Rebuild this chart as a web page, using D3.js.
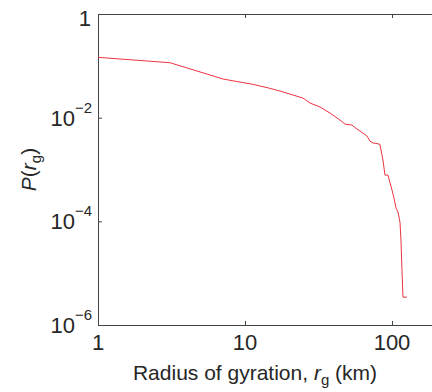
<!DOCTYPE html>
<html>
<head>
<meta charset="utf-8">
<script src="https://cdn.jsdelivr.net/npm/d3@7"></script>
<style>
  body { margin: 0; background: #fff; }
  text { font-family: "Liberation Sans", Arial, sans-serif; fill: #262626; }
</style>
</head>
<body>
<div id="chart"></div>
<script>
// radius of gyration (km) vs P(rg)
const rg = [1, 3.09, 7.1, 11.3, 14.8, 17.3, 24.8, 27.7, 32.4, 37.9, 44.3, 47.9, 53.4, 57.8, 63.5, 67.6,
            70.8, 74.3, 77.8, 82.8, 86.8, 89.6, 93.9, 100, 103.2, 106.5, 109.9, 113.3, 115.1, 116.9, 118.8, 126.5];
const logP = [-0.836, -0.94, -1.255, -1.357, -1.434, -1.487, -1.622, -1.718, -1.795, -1.911, -2.046, -2.124,
              -2.143, -2.22, -2.297, -2.355, -2.452, -2.49, -2.496, -2.515, -2.819, -3.108, -3.108, -3.398,
              -3.552, -3.745, -3.822, -4.015, -4.363, -4.942, -5.463, -5.463];
const xTicks = [1, 10, 100];
const yTickExp = [0, -2, -4, -6];

const width = 432, height = 392;
const margins = {top: 14, bottom: 67, left: 98};

const svg = d3.select('#chart')
    .append('svg')
    .attr('width', width)
    .attr('height', height);

let x_scale = d3.scaleLog()
    .domain([1, 200])
    .range([margins.left, margins.left + 147 * Math.log10(200)]);

let y_scale = d3.scaleLog()
    .domain([1e-6, 1])
    .range([height - margins.bottom, margins.top]);

const axisColor = '#444';

const x0 = x_scale.range()[0];
const yb = y_scale(1e-6), yt = y_scale(1);

// inward ticks, MATLAB style (bottom, top, left)
let x_axis = d3.axisBottom(x_scale).tickValues(xTicks).tickSize(-4).tickFormat('');
let x_axis_top = d3.axisTop(x_scale).tickValues(xTicks).tickSize(-4).tickFormat('');
let y_axis = d3.axisLeft(y_scale).tickValues(yTickExp.map(e => Math.pow(10, e))).tickSize(-4).tickFormat('');

svg.append('g')
    .attr('transform', 'translate(0,' + yb + ')')
    .call(x_axis);
svg.append('g')
    .attr('transform', 'translate(0,' + yt + ')')
    .call(x_axis_top);
svg.append('g')
    .attr('transform', 'translate(' + x0 + ',0)')
    .call(y_axis);

svg.selectAll('.domain').attr('stroke', axisColor).attr('stroke-width', 1);
svg.selectAll('.tick line').attr('stroke', axisColor).attr('stroke-width', 1);

// x tick labels
svg.selectAll('.xlab')
    .data(xTicks)
    .enter()
    .append('text')
    .attr('x', d => x_scale(d))
    .attr('y', yb + 25)
    .attr('text-anchor', 'middle')
    .attr('font-size', '22px')
    .text(d => d);

// y tick labels with superscript exponents
yTickExp.forEach(function(e) {
    let yy = y_scale(Math.pow(10, e));
    if (e === 0) {
        svg.append('text')
            .attr('x', x0 - 7)
            .attr('y', yy + 12)
            .attr('text-anchor', 'end')
            .attr('font-size', '22px')
            .text('1');
    } else {
        let t = svg.append('text')
            .attr('x', x0 - 6)
            .attr('y', yy + 8)
            .attr('text-anchor', 'end')
            .attr('font-size', '22px');
        t.append('tspan').text('10');
        t.append('tspan')
            .attr('font-size', '15px')
            .attr('dy', -13)
            .text('\u2212' + Math.abs(e));
    }
});

// x label
let xl = svg.append('text')
    .attr('x', 255)
    .attr('y', 380)
    .attr('text-anchor', 'middle')
    .attr('font-size', '21px');
xl.append('tspan').text('Radius of gyration, ');
xl.append('tspan').attr('font-style', 'italic').text('r');
xl.append('tspan').attr('font-size', '15px').attr('dy', 5).text('g');
xl.append('tspan').attr('dy', -5).text(' (km)');

// y label
let yl = svg.append('text')
    .attr('transform', 'translate(36,' + ((yt + yb) / 2) + ') rotate(-90)')
    .attr('text-anchor', 'middle')
    .attr('font-size', '21px');
yl.append('tspan').attr('font-style', 'italic').text('P');
yl.append('tspan').text('(');
yl.append('tspan').attr('font-style', 'italic').text('r');
yl.append('tspan').attr('font-size', '15px').attr('dy', 5).text('g');
yl.append('tspan').attr('dy', -5).text(')');

// curve
const pts = rg.map((r, i) => ({r: r, p: Math.pow(10, logP[i])}));
let line = d3.line()
    .x(d => x_scale(d.r))
    .y(d => y_scale(d.p));

svg.append('path')
    .datum(pts)
    .attr('d', line)
    .attr('fill', 'none')
    .attr('stroke', '#ee3440')
    .attr('stroke-width', 1);
</script>
</body>
</html>
